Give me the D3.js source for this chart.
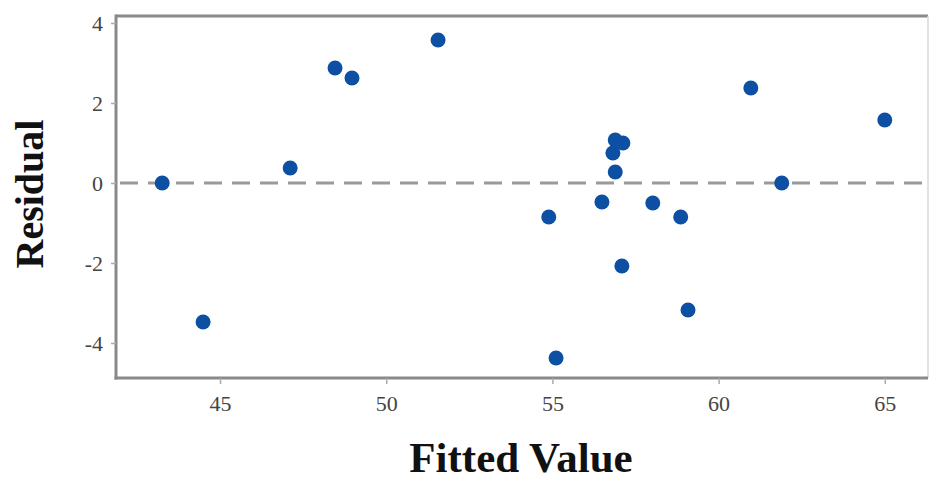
<!DOCTYPE html>
<html><head><meta charset="utf-8">
<script src="https://cdn.jsdelivr.net/npm/d3@7"></script>
<style>body{margin:0;background:#fff}</style>
</head><body>
<svg id="c" width="930" height="482"></svg>
<script>
const fitted = [43.26,44.49,47.11,48.46,48.97,51.56,54.89,55.11,56.49,56.89,57.12,56.82,56.89,57.09,58.02,58.86,59.08,60.97,61.9,65.0];
const residual = [0,-3.475,0.375,2.875,2.625,3.575,-0.85,-4.375,-0.475,1.075,1.0,0.75,0.275,-2.075,-0.5,-0.85,-3.175,2.375,0,1.575];
const xTicks = [45,50,55,60,65];
const yTicks = [-4,-2,0,2,4];
const xTitle = "Fitted Value";
const yTitle = "Residual";

const svg = d3.select("#c");
const L=116, R=928, T=16, B=378;
const x = d3.scaleLinear().domain([41.87,66.3]).range([L,R]);
const y = d3.scaleLinear().domain([-4.875,4.175]).range([B,T]);
const gray="#8a8a8a";

// frame
svg.append("line").attr("x1",L).attr("x2",R).attr("y1",T).attr("y2",T).attr("stroke",gray).attr("stroke-width",3);
svg.append("line").attr("x1",R).attr("x2",R).attr("y1",T).attr("y2",B).attr("stroke","#d8d8d8").attr("stroke-width",1.5);

const xa = svg.append("g").attr("transform",`translate(0,${B})`)
  .call(d3.axisBottom(x).tickValues(xTicks).tickSize(6).tickSizeOuter(0).tickPadding(11));
const ya = svg.append("g").attr("transform",`translate(${L},0)`)
  .call(d3.axisLeft(y).tickValues(yTicks).tickSize(5).tickSizeOuter(0).tickPadding(8).tickFormat(d=>String(d)));
[xa,ya].forEach(a=>{
  a.select(".domain").attr("stroke",gray).attr("stroke-width",3);
  a.selectAll(".tick line").attr("stroke","#aaa").attr("stroke-width",1.5);
  a.selectAll(".tick text").attr("fill","#444").style("font-family","Liberation Serif").style("font-size","22px");
});
xa.select(".domain").attr("d",`M${L-1.5},0H${R}`);
ya.select(".domain").attr("d",`M0,${T-1.5}V${B+1.5}`);

// zero reference line
svg.append("line").attr("x1",L+4).attr("x2",R).attr("y1",y(0)).attr("y2",y(0))
  .attr("stroke","#9a9a9a").attr("stroke-width",3).attr("stroke-dasharray","18,10");

svg.append("g").selectAll("circle").data(fitted).join("circle")
  .attr("cx",d=>x(d)).attr("cy",(d,i)=>y(residual[i])).attr("r",7.5).attr("fill","#0d4fa3");

svg.append("text").attr("x",521).attr("y",472).attr("text-anchor","middle")
  .style("font-family","Liberation Serif").style("font-weight","bold").style("font-size","43px").attr("fill","#111").text(xTitle);
svg.append("text").attr("transform","translate(43,194) rotate(-90)").attr("text-anchor","middle")
  .style("font-family","Liberation Serif").style("font-weight","bold").style("font-size","40px").attr("fill","#111").text(yTitle);
</script>
</body></html>
